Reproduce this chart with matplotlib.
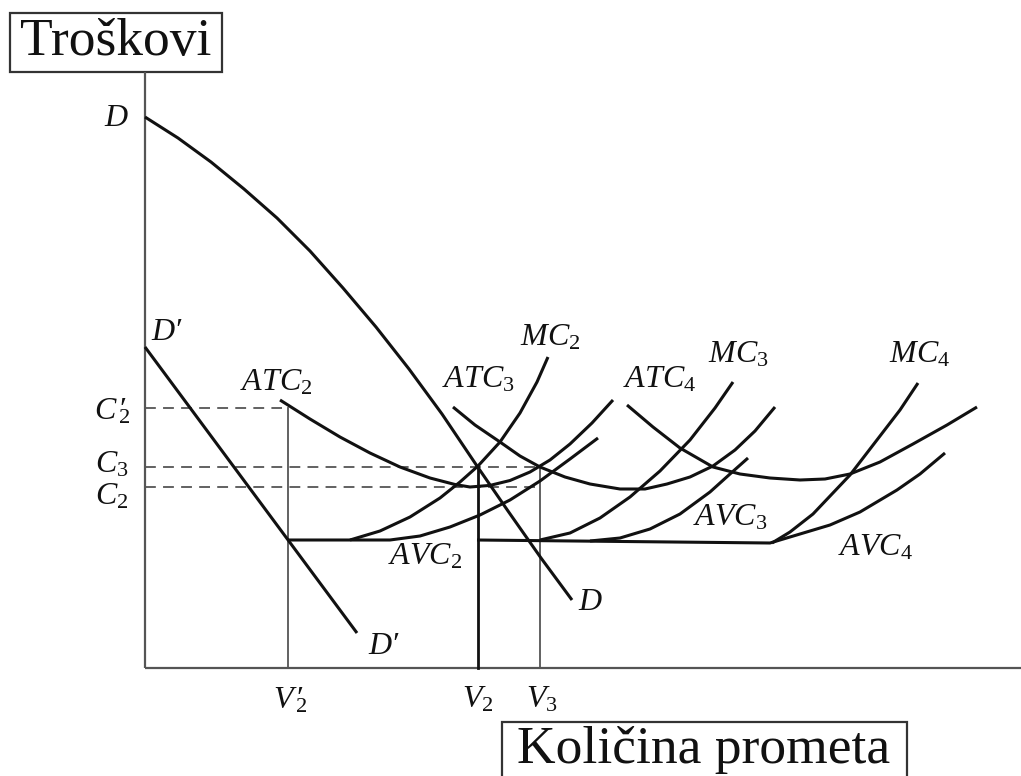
import matplotlib
matplotlib.use("Agg")
import matplotlib.pyplot as plt
from matplotlib.patches import Rectangle

plt.rcParams['font.family'] = ['Liberation Serif', 'DejaVu Serif']
plt.rcParams['mathtext.fontset'] = 'custom'
plt.rcParams['mathtext.rm'] = 'Liberation Serif'
plt.rcParams['mathtext.it'] = 'Liberation Serif:italic'

# ----- curves (quantity, cost) -----
d_q = [0, 33, 66, 99, 132, 165, 198, 231, 264, 297, 332, 363, 396, 427]
d_c = [551, 530, 506, 479, 450, 417, 380, 341, 299, 254, 202, 157, 110, 68]

dp_q = [0, 212]
dp_c = [321, 35]

atc2_q = [135, 165, 195, 225, 255, 285, 310, 325, 345, 365, 385, 405, 425, 447, 468]
atc2_c = [268, 249, 231, 215, 201, 190, 183.5, 181, 182.6, 187.5, 196, 208, 224, 245, 268]

avc2_q = [143, 245, 275, 305, 335, 365, 395, 425, 453]
avc2_c = [128, 128, 132, 141, 153, 168, 187, 209, 230]

mc2_q = [205, 235, 265, 295, 315, 333, 355, 375, 392, 403]
mc2_c = [128, 137, 151, 170, 186, 202, 226, 255, 286, 311]

atc3_q = [308, 330, 355, 375, 395, 420, 445, 475, 500, 522, 545, 568, 590, 610, 630]
atc3_c = [261, 243, 226, 212, 201, 191, 184, 179, 179, 184, 191, 202, 218, 237, 261]

avc3_q = [445, 475, 505, 535, 565, 585, 603]
avc3_c = [127, 130, 139, 154, 176, 194, 210]

mc3_q = [395, 425, 455, 485, 515, 545, 570, 588]
mc3_c = [128, 135, 150, 171, 197, 228, 260, 286]

atc4_q = [482, 508, 535, 568, 595, 625, 655, 680, 705, 735, 768, 802, 832]
atc4_c = [263, 241, 220, 201, 194, 190, 188, 189, 194, 206, 224, 243, 261]

avc4_q = [332, 625, 655, 685, 715, 752, 775, 800]
avc4_c = [128, 125, 134, 143, 156, 178, 194, 215]

mc4_q = [627, 645, 668, 705, 735, 755, 773]
mc4_c = [125, 136, 154, 193, 232, 258, 285]

# levels on the axes
c2p, c3, c2 = 260, 201, 181
v2p, v2, v3 = 143, 333, 395

fig = plt.figure(figsize=(10.21, 7.76), dpi=100)
ax = fig.add_axes([0, 0, 1, 1])
ax.set_xlim(-145, 876)
ax.set_ylim(-108, 668)
ax.axis('off')

ink = '#111111'
grey = '#555555'

# axes
ax.plot([0, 0], [0, 596], color=grey, lw=1.6, solid_capstyle='butt')
ax.plot([0, 876], [0, 0], color=grey, lw=1.6, solid_capstyle='butt')

# dashed guides
dash = dict(color=grey, lw=1.3, dashes=(6, 4))
ax.plot([0, 137], [c2p, c2p], **dash)
ax.plot([0, v3], [c3, c3], **dash)
ax.plot([0, v3], [c2, c2], **dash)

# verticals
ax.plot([v2p, v2p], [0, c2p], color=grey, lw=1.3)
ax.plot([v3, v3], [0, c3], color=grey, lw=1.3)
ax.plot([v2, v2], [0, c3], color=ink, lw=2.0)

curve = dict(color=ink, lw=2.2, solid_capstyle='butt', solid_joinstyle='round')
for q, c in [(d_q, d_c), (dp_q, dp_c), (atc2_q, atc2_c), (avc2_q, avc2_c),
             (mc2_q, mc2_c), (atc3_q, atc3_c), (avc3_q, avc3_c), (mc3_q, mc3_c),
             (atc4_q, atc4_c), (avc4_q, avc4_c), (mc4_q, mc4_c)]:
    ax.plot(q, c, **curve)

# labels
lab = dict(fontsize=23, color=ink, ha='center', va='center')
ax.text(-29, 550, r'$D$', **lab)
ax.text(21, 336, 'D′', fontstyle='italic', **lab)
ax.text(-33, 256, r'$C\,′_{\!\!\!2}$', **lab)
ax.text(-33, 203, r'$C_3$', **lab)
ax.text(-33, 171, r'$C_2$', **lab)
ax.text(131, 285, r'$ATC_2$', **lab)
ax.text(333, 288, r'$ATC_3$', **lab)
ax.text(405, 330, r'$MC_2$', **lab)
ax.text(515, 288, r'$ATC_4$', **lab)
ax.text(593, 313, r'$MC_3$', **lab)
ax.text(775, 313, r'$MC_4$', **lab)
ax.text(585, 150, r'$AVC_3$', **lab)
ax.text(730, 120, r'$AVC_4$', **lab)
ax.text(280, 111, r'$AVC_2$', **lab)
ax.text(445, 65, r'$D$', **lab)
ax.text(238, 22, 'D′', fontstyle='italic', **lab)
ax.text(v2p + 2, -33, r'$V\,′_{\!\!\!2}$', **lab)
ax.text(v2, -32, r'$V_2$', **lab)
ax.text(v3 + 2, -32, r'$V_3$', **lab)

# boxed axis titles
ax.add_patch(Rectangle((-135, 596), 212, 59, fill=False, edgecolor='#333333', lw=1.6))
ax.text(-29, 626, 'Troškovi', fontsize=38.5, color=ink, ha='center', va='center')
ax.add_patch(Rectangle((357, -130), 405, 76, fill=False, edgecolor='#333333', lw=1.6,
                       clip_on=False))
ax.text(559, -95, 'Količina prometa', fontsize=38.5, color=ink, ha='center', va='baseline')

fig.savefig('out.png', dpi=100)
